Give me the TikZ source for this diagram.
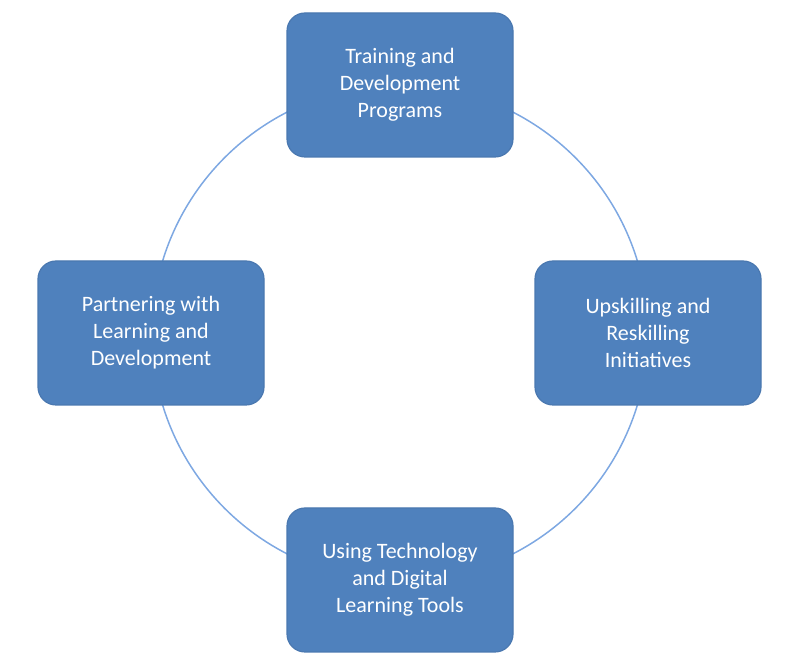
\documentclass[tikz,border=0pt]{standalone}
\usepackage{fontspec}
\setmainfont{Carlito}
\begin{document}
\begin{tikzpicture}[x=1pt,y=1pt,
  box/.style={draw=boxedge,line width=1.2pt,fill=boxfill,rounded corners=18pt,minimum width=226pt,minimum height=144pt,text=white,align=center,font=\fontsize{22}{27}\selectfont}]
\definecolor{boxfill}{HTML}{4F81BD}
\definecolor{boxedge}{HTML}{4A78B0}
\definecolor{ring}{HTML}{7EA8E2}
\useasboundingbox (0,0) rectangle (800,668);
\coordinate (c) at (400,335);
\draw[ring,line width=1.5pt] (c) circle (248);
\node[box] (t) at (400,583) {Training and\\Development\\Programs};
\node[box] (r) at (648,335) {Upskilling and\\Reskilling\\Initiatives};
\node[box] (b) at (400,88) {Using Technology\\and Digital\\Learning Tools};
\node[box] (l) at (151,335) {Partnering with\\Learning and\\Development};
\end{tikzpicture}
\end{document}
